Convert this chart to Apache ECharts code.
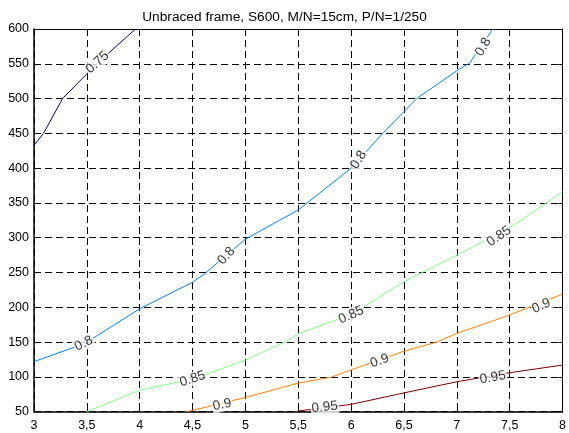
<!DOCTYPE html>
<html>
<head>
<meta charset="utf-8">
<script src="https://cdn.jsdelivr.net/npm/echarts@6/dist/echarts.min.js"></script>
<style>html,body{margin:0;padding:0;background:#fff}#c{width:569px;height:433px}</style>
</head>
<body>
<div id="c"></div>
<script>
// Contour levels and their polylines (x, y)
var levels = ['0.75', '0.8', '0.85', '0.9', '0.95'];
var line075 = [[3.0, 433], [3.09, 450], [3.27, 500], [3.6, 551], [3.96, 600]];
var line080 = [[3.0, 122], [3.48, 148], [4.0, 198], [4.5, 236], [4.62, 249], [5.0, 298], [5.5, 340], [6.0, 400], [6.3, 450], [6.62, 500], [7.0, 540], [7.12, 551], [7.34, 600]];
var line085 = [[3.5, 50], [4.0, 81], [4.5, 97], [5.0, 124], [5.38, 151], [5.5, 162], [6.0, 190], [6.25, 213], [6.5, 237], [7.0, 275], [7.5, 314], [8.0, 366]];
var line090 = [[4.45, 50], [5.0, 70.5], [5.5, 91], [5.81, 99.5], [6.0, 110], [6.5, 137], [6.81, 150], [7.0, 162.5], [7.5, 189], [8.0, 219]];
var line095 = [[5.5, 51], [6.0, 60.5], [6.5, 77], [7.0, 93], [7.5, 106], [8.0, 117]];
// Contour label positions (x, y, text)
var labels075 = [[3.6, 552, '0.75']];
var labels080 = [[3.47, 148, '0.8'], [4.82, 274, '0.8'], [6.07, 412, '0.8'], [7.25, 574, '0.8']];
var labels085 = [[4.5, 97, '0.85'], [6.0, 189, '0.85'], [7.4, 302, '0.85']];
var labels090 = [[4.78, 60, '0.9'], [6.27, 123, '0.9'], [7.8, 202, '0.9']];
var labels095 = [[5.75, 56.5, '0.95'], [7.34, 99, '0.95']];
var xTicks = [3, 3.5, 4, 4.5, 5, 5.5, 6, 6.5, 7, 7.5, 8];
var yTicks = [50, 100, 150, 200, 250, 300, 350, 400, 450, 500, 550, 600];
var titleText = 'Unbraced frame, S600, M/N=15cm, P/N=1/250';

var colors = ['#00008f', '#0080ff', '#80ff80', '#ff8000', '#800000'];
var lines = [line075, line080, line085, line090, line095];
var labelSets = [labels075, labels080, labels085, labels090, labels095];
// label rotation (style)
var rotations = [[42], [26, 48, 58, 60], [18, 24, 34], [12, 20, 24], [6, 10]];

var font = 'Liberation Sans, Arial, sans-serif';
var series = [];
lines.forEach(function (d, i) {
  series.push({
    type: 'line', data: d, showSymbol: false, silent: true, z: 2,
    lineStyle: { color: colors[i], width: 1 }
  });
});
labelSets.forEach(function (set, i) {
  series.push({
    type: 'scatter', symbolSize: 0, silent: true, z: 5,
    data: set.map(function (p, k) {
      return {
        value: [p[0], p[1]],
        label: {
          show: true, position: 'inside', formatter: p[2],
          rotate: rotations[i][k], color: '#000', fontSize: 13.5, fontFamily: font,
          backgroundColor: '#fff', padding: [0, 1]
        }
      };
    })
  });
});

function fmt(v) { return String(v).replace('.', ','); }
var gridStyle = { show: true, lineStyle: { color: '#000', type: [7, 4], width: 1 } };

var chart = echarts.init(document.getElementById('c'), null, { renderer: 'canvas' });
chart.setOption({
  animation: false,
  backgroundColor: '#fff',
  title: {
    text: titleText, left: 'center', top: 5,
    textStyle: { fontSize: 13.7, fontWeight: 'normal', color: '#000', fontFamily: font }
  },
  grid: { left: 34, right: 2.5, top: 29, bottom: 21.3, containLabel: false },
  xAxis: [{
    type: 'value', min: xTicks[0], max: xTicks[xTicks.length - 1], interval: 0.5,
    axisLine: { show: true, lineStyle: { color: '#000', width: 1.5 } },
    axisTick: { show: true, inside: true, length: 4, lineStyle: { color: '#000' } },
    axisLabel: { color: '#000', fontSize: 12.5, fontFamily: font, margin: 7, formatter: fmt },
    splitLine: gridStyle
  }, {
    type: 'value', position: 'top', min: xTicks[0], max: xTicks[xTicks.length - 1], interval: 0.5,
    axisLine: { show: true, lineStyle: { color: '#000', width: 1 } },
    axisTick: { show: true, inside: true, length: 4, lineStyle: { color: '#000' } },
    axisLabel: { show: false }, splitLine: { show: false }
  }],
  yAxis: [{
    type: 'value', min: yTicks[0], max: yTicks[yTicks.length - 1], interval: 50,
    axisLine: { show: true, lineStyle: { color: '#000', width: 1.5 } },
    axisTick: { show: true, inside: true, length: 4, lineStyle: { color: '#000' } },
    axisLabel: { color: '#000', fontSize: 12.5, fontFamily: font, margin: 5 },
    splitLine: gridStyle
  }, {
    type: 'value', position: 'right', min: yTicks[0], max: yTicks[yTicks.length - 1], interval: 50,
    axisLine: { show: true, lineStyle: { color: '#000', width: 1 } },
    axisTick: { show: true, inside: true, length: 4, lineStyle: { color: '#000' } },
    axisLabel: { show: false }, splitLine: { show: false }
  }],
  series: series
});
</script>
</body>
</html>
